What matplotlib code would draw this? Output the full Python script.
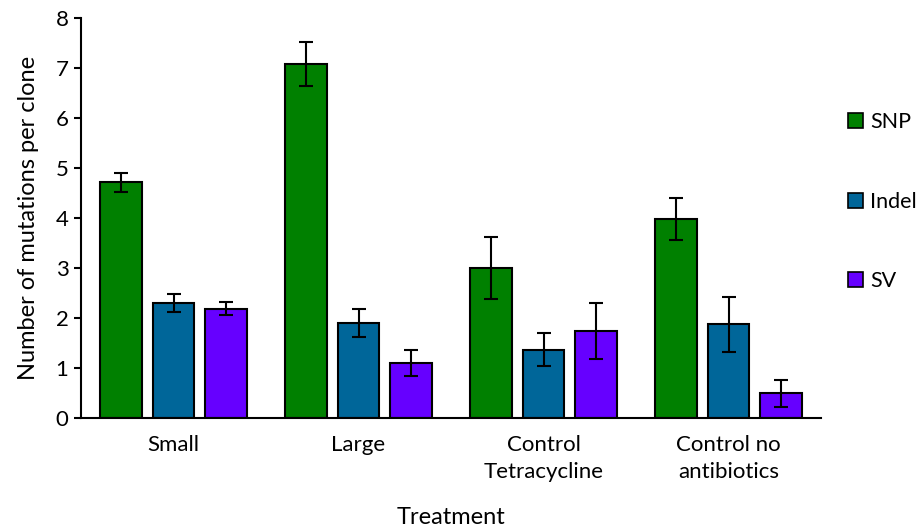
import matplotlib
matplotlib.use("Agg")
import matplotlib.pyplot as plt
import numpy as np
from matplotlib.patches import Patch

plt.rcParams['font.family'] = ['Lato', 'DejaVu Sans']

categories = ["Small", "Large", "Control\nTetracycline", "Control no\nantibiotics"]
series = ["SNP", "Indel", "SV"]
snp = [4.72, 7.09, 3.00, 3.99]
snp_err = [0.19, 0.44, 0.62, 0.42]
indel = [2.30, 1.90, 1.37, 1.88]
indel_err = [0.18, 0.28, 0.33, 0.55]
sv = [2.19, 1.10, 1.75, 0.50]
sv_err = [0.13, 0.26, 0.56, 0.27]
colors = ["#008000", "#006699", "#6600FF"]

fig = plt.figure(figsize=(9.21, 5.32), dpi=100)
ax = fig.add_axes([81/921, 114/532, 740/921, 400/532])

x = np.arange(len(categories))
width = 0.227
pitch = 0.284
vals = [snp, indel, sv]
errs = [snp_err, indel_err, sv_err]
for i, (v, e, c, name) in enumerate(zip(vals, errs, colors, series)):
    ax.bar(x + (i - 1) * pitch, v, width, color=c, edgecolor="black", linewidth=1.5,
           yerr=e, capsize=5, error_kw=dict(elinewidth=1.5, capthick=1.5, ecolor="black"),
           label=name, zorder=2)

ax.set_xlim(-0.5, len(categories) - 0.5)
ax.set_ylim(0, 8)
ax.set_yticks(range(0, 9))
ax.set_xticks(x)
ax.set_xticklabels(categories, fontsize=16, linespacing=1.45)
ax.tick_params(axis='x', length=0, pad=12)
ax.tick_params(axis='y', direction='out', length=5, width=1.5, labelsize=16, pad=4)
for s in ["top", "right"]:
    ax.spines[s].set_visible(False)
for s in ["left", "bottom"]:
    ax.spines[s].set_linewidth(1.5)
ax.set_ylabel("Number of mutations per clone", fontsize=17, labelpad=12)
ax.set_xlabel("Treatment", fontsize=17, labelpad=18)

handles = [Patch(facecolor=c, edgecolor="black", linewidth=1.2) for c in colors]
fig.legend(handles, series, loc="upper left", bbox_to_anchor=(829/921, 1 - 93/532),
           frameon=False, fontsize=15.5, labelspacing=2.75, handlelength=0.7,
           handleheight=0.7, handletextpad=0.3)

fig.savefig("out.png", dpi=100)
